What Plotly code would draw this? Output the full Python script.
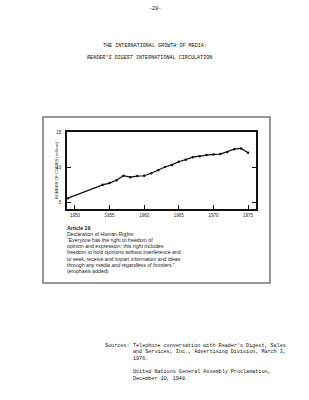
import plotly.graph_objects as go

# ---- data ----
years = [1949, 1954, 1955, 1956, 1957, 1958, 1959, 1960, 1961, 1962, 1963, 1964,
         1965, 1966, 1967, 1968, 1969, 1970, 1971, 1972, 1973, 1974, 1975]
copies = [5.55, 7.45, 7.7, 8.1, 8.75, 8.55, 8.7, 8.75, 9.1, 9.55, 10.0, 10.3,
          10.75, 11.05, 11.4, 11.55, 11.7, 11.8, 11.85, 12.15, 12.55, 12.65, 12.05]
x_ticks = [1950, 1955, 1960, 1965, 1970, 1975]
y_ticks = [5, 10, 15]

W, H = 309, 400
L, R, T, B = 67, 256, 132, 209  # plot area in pixels


def px(x):
    return (x - L) / (R - L)


def py(y):
    return (B - y) / (B - T)


fig = go.Figure()
fig.add_trace(go.Scatter(
    x=years, y=copies, mode="lines+markers",
    line=dict(color="#111", width=1.2),
    marker=dict(color="#111", size=2.5),
    showlegend=False,
))

tickfont = dict(family="Liberation Sans, Arial", size=4.5, color="#222")
fig.update_layout(
    width=W, height=H,
    margin=dict(l=L, r=W - R, t=T, b=H - B),
    paper_bgcolor="white", plot_bgcolor="white",
    xaxis=dict(range=[1948.85, 1976.15], tickvals=x_ticks, ticks="inside", ticklen=4,
               tickcolor="#111", showline=True, linecolor="#111", linewidth=1.5,
               mirror=True, showgrid=False, zeroline=False, tickfont=tickfont,
               ticklabelstandoff=1),
    yaxis=dict(range=[4, 15], tickvals=y_ticks, ticks="inside", ticklen=4,
               tickcolor="#111", showline=True, linecolor="#111", linewidth=1.5,
               mirror="ticks", showgrid=False, zeroline=False, tickfont=tickfont,
               ticklabelstandoff=3),
)

shapes = [dict(type="rect", xref="paper", yref="paper",
               x0=px(43), x1=px(270), y0=py(117), y1=py(283),
               line=dict(color="#777", width=1.5))]
fig.update_layout(shapes=shapes)

ann = []


def text(x, y, s, size, family, xanchor="left", angle=0, color="#222"):
    ann.append(dict(xref="paper", yref="paper", x=px(x), y=py(y), text=s,
                    showarrow=False, xanchor=xanchor, yanchor="middle",
                    textangle=angle,
                    font=dict(family=family, size=size, color=color)))


sans = "Liberation Sans, Arial"
mono = "Liberation Mono, DejaVu Sans Mono"

text(56, 170, "NUMBER OF COPIES (millions)", 4, sans, xanchor="center", angle=-90)

article = [
    "<b>Article 19</b>",
    "Declaration of Human Rights",
    "\u201cEveryone has the right to freedom of",
    "opinion and expression; this right includes",
    "freedom to hold opinions without interference and",
    "to seek, receive and impart information and ideas",
    "through <i>any media and regardless of frontiers</i>.\u201d",
    "(emphasis added)",
]
for i, s in enumerate(article):
    text(65, 227.5 + i * 6.2, s, 5.2, sans)

text(155, 9, "-28-", 5.2, mono, xanchor="center", color="#111")
text(155, 46, "THE INTERNATIONAL GROWTH OF MEDIA:", 5.1, mono, xanchor="center", color="#111")
text(149, 58, "<i>READER'S DIGEST</i> INTERNATIONAL CIRCULATION", 5.1, mono,
     xanchor="center", color="#111")

text(103, 345.5, "Sources:", 5.1, mono, color="#111")
src = [
    (345.5, "Telephone conversation with Reader's Digest, Sales"),
    (352, "and Services, Inc., Advertising Division, March 3,"),
    (358.5, "1976."),
    (372, "United Nations General Assembly Proclamation,"),
    (378.5, "December 10, 1948."),
]
for y, s in src:
    text(131, y, s, 5.1, mono, color="#111")

fig.update_layout(annotations=ann)
fig.write_html("out.html")
